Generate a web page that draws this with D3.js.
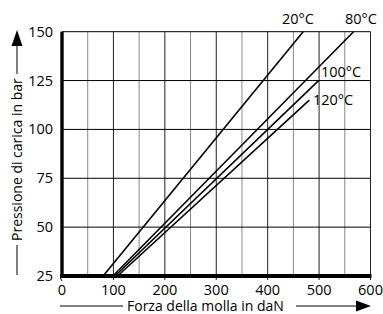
<!DOCTYPE html>
<html>
<head>
<meta charset="utf-8" />
<title>Pressione di carica</title>
<script src="https://cdnjs.cloudflare.com/ajax/libs/d3/7.8.5/d3.min.js"></script>
<style>
body { margin: 0; background: #fff; }
text { font-family: "Open Sans", sans-serif; fill: #000; }
</style>
</head>
<body>
<svg id="chart" width="383" height="314"></svg>
<script>
// data: spring force (daN) vs charge pressure (bar)
const xTicks = [0, 100, 200, 300, 400, 500, 600];
const yTicks = [25, 50, 75, 100, 125, 150];
const xMinor = [50, 150, 250, 350, 450, 550];
const seriesNames = ["20°C", "80°C", "100°C", "120°C"];
const force20 = [80, 469];
const press20 = [25, 150];
const force80 = [99, 567];
const press80 = [25, 150];
const force100 = [103, 499];
const press100 = [25, 125];
const force120 = [108, 481];
const press120 = [25, 115];

let svg = d3.select("#chart");
let x = d3.scaleLinear().domain([0, 600]).range([62, 370.5]);
let y = d3.scaleLinear().domain([25, 150]).range([276, 31.7]);

// grid
let grid = svg.append("g");
grid.selectAll(".minor").data(xMinor).enter().append("line")
	.attr("x1", d => x(d)).attr("x2", d => x(d))
	.attr("y1", y(150)).attr("y2", y(25))
	.attr("stroke", "#888").attr("stroke-width", 1);
grid.selectAll(".major").data(xTicks.slice(1)).enter().append("line")
	.attr("x1", d => x(d)).attr("x2", d => x(d))
	.attr("y1", y(150)).attr("y2", y(25) + 4)
	.attr("stroke", "#222").attr("stroke-width", 1);
grid.selectAll(".hor").data(yTicks.slice(1)).enter().append("line")
	.attr("x1", x(0)).attr("x2", x(600))
	.attr("y1", d => y(d)).attr("y2", d => y(d))
	.attr("stroke", "#000").attr("stroke-width", 1);

// series lines
let series = [
	d3.zip(force20, press20),
	d3.zip(force80, press80),
	d3.zip(force100, press100),
	d3.zip(force120, press120)
];
let line = d3.line().x(d => x(d[0])).y(d => y(d[1]));
svg.append("g").selectAll("path").data(series).enter().append("path")
	.attr("d", line)
	.attr("fill", "none")
	.attr("stroke", "#000")
	.attr("stroke-width", 1.6);

// labels of series
let labelPos = [[282, 24], [345, 24], [321, 77], [313, 105]];
svg.append("g").selectAll("text").data(seriesNames).enter().append("text")
	.attr("x", (d, i) => labelPos[i][0])
	.attr("y", (d, i) => labelPos[i][1])
	.attr("font-size", 14.5)
	.text(d => d);

// thick axes
svg.append("line").attr("x1", x(0)).attr("x2", x(0))
	.attr("y1", y(150)).attr("y2", y(25) + 2)
	.attr("stroke", "#000").attr("stroke-width", 3.4);
svg.append("line").attr("x1", x(0) - 1.7).attr("x2", x(600) + 1)
	.attr("y1", y(25)).attr("y2", y(25))
	.attr("stroke", "#000").attr("stroke-width", 4);
svg.append("line").attr("x1", x(0) - 1.7).attr("x2", x(0))
	.attr("y1", y(25) + 2).attr("y2", y(25) + 5)
	.attr("stroke", "#000").attr("stroke-width", 1);

// tick labels
svg.append("g").selectAll("text").data(yTicks).enter().append("text")
	.attr("x", 53).attr("y", d => y(d) + 5)
	.attr("text-anchor", "end")
	.attr("font-size", 14.5)
	.text(d => d);
svg.append("g").selectAll("text").data(xTicks).enter().append("text")
	.attr("x", d => x(d)).attr("y", 294.5)
	.attr("text-anchor", "middle")
	.attr("font-size", 14.5)
	.text(d => d);

// axis titles with arrows
svg.append("text").attr("x", 127).attr("y", 310.5)
	.attr("font-size", 14).text("Forza della molla in daN");
svg.append("line").attr("x1", 60).attr("x2", 123).attr("y1", 306).attr("y2", 306)
	.attr("stroke", "#000").attr("stroke-width", 1);
svg.append("line").attr("x1", 296).attr("x2", 358).attr("y1", 306).attr("y2", 306)
	.attr("stroke", "#000").attr("stroke-width", 1);
svg.append("path").attr("d", "M356,300.5 L371,306 L356,311.5 Z").attr("fill", "#000");

svg.append("text")
	.attr("transform", "translate(22,241) rotate(-90)")
	.attr("font-size", 14).text("Pressione di carica in bar");
svg.append("line").attr("x1", 17).attr("x2", 17).attr("y1", 245).attr("y2", 275)
	.attr("stroke", "#000").attr("stroke-width", 1);
svg.append("line").attr("x1", 17).attr("x2", 17).attr("y1", 44).attr("y2", 74)
	.attr("stroke", "#000").attr("stroke-width", 1);
svg.append("path").attr("d", "M11.5,46 L17,30 L22.5,46 Z").attr("fill", "#000");
</script>
</body>
</html>
